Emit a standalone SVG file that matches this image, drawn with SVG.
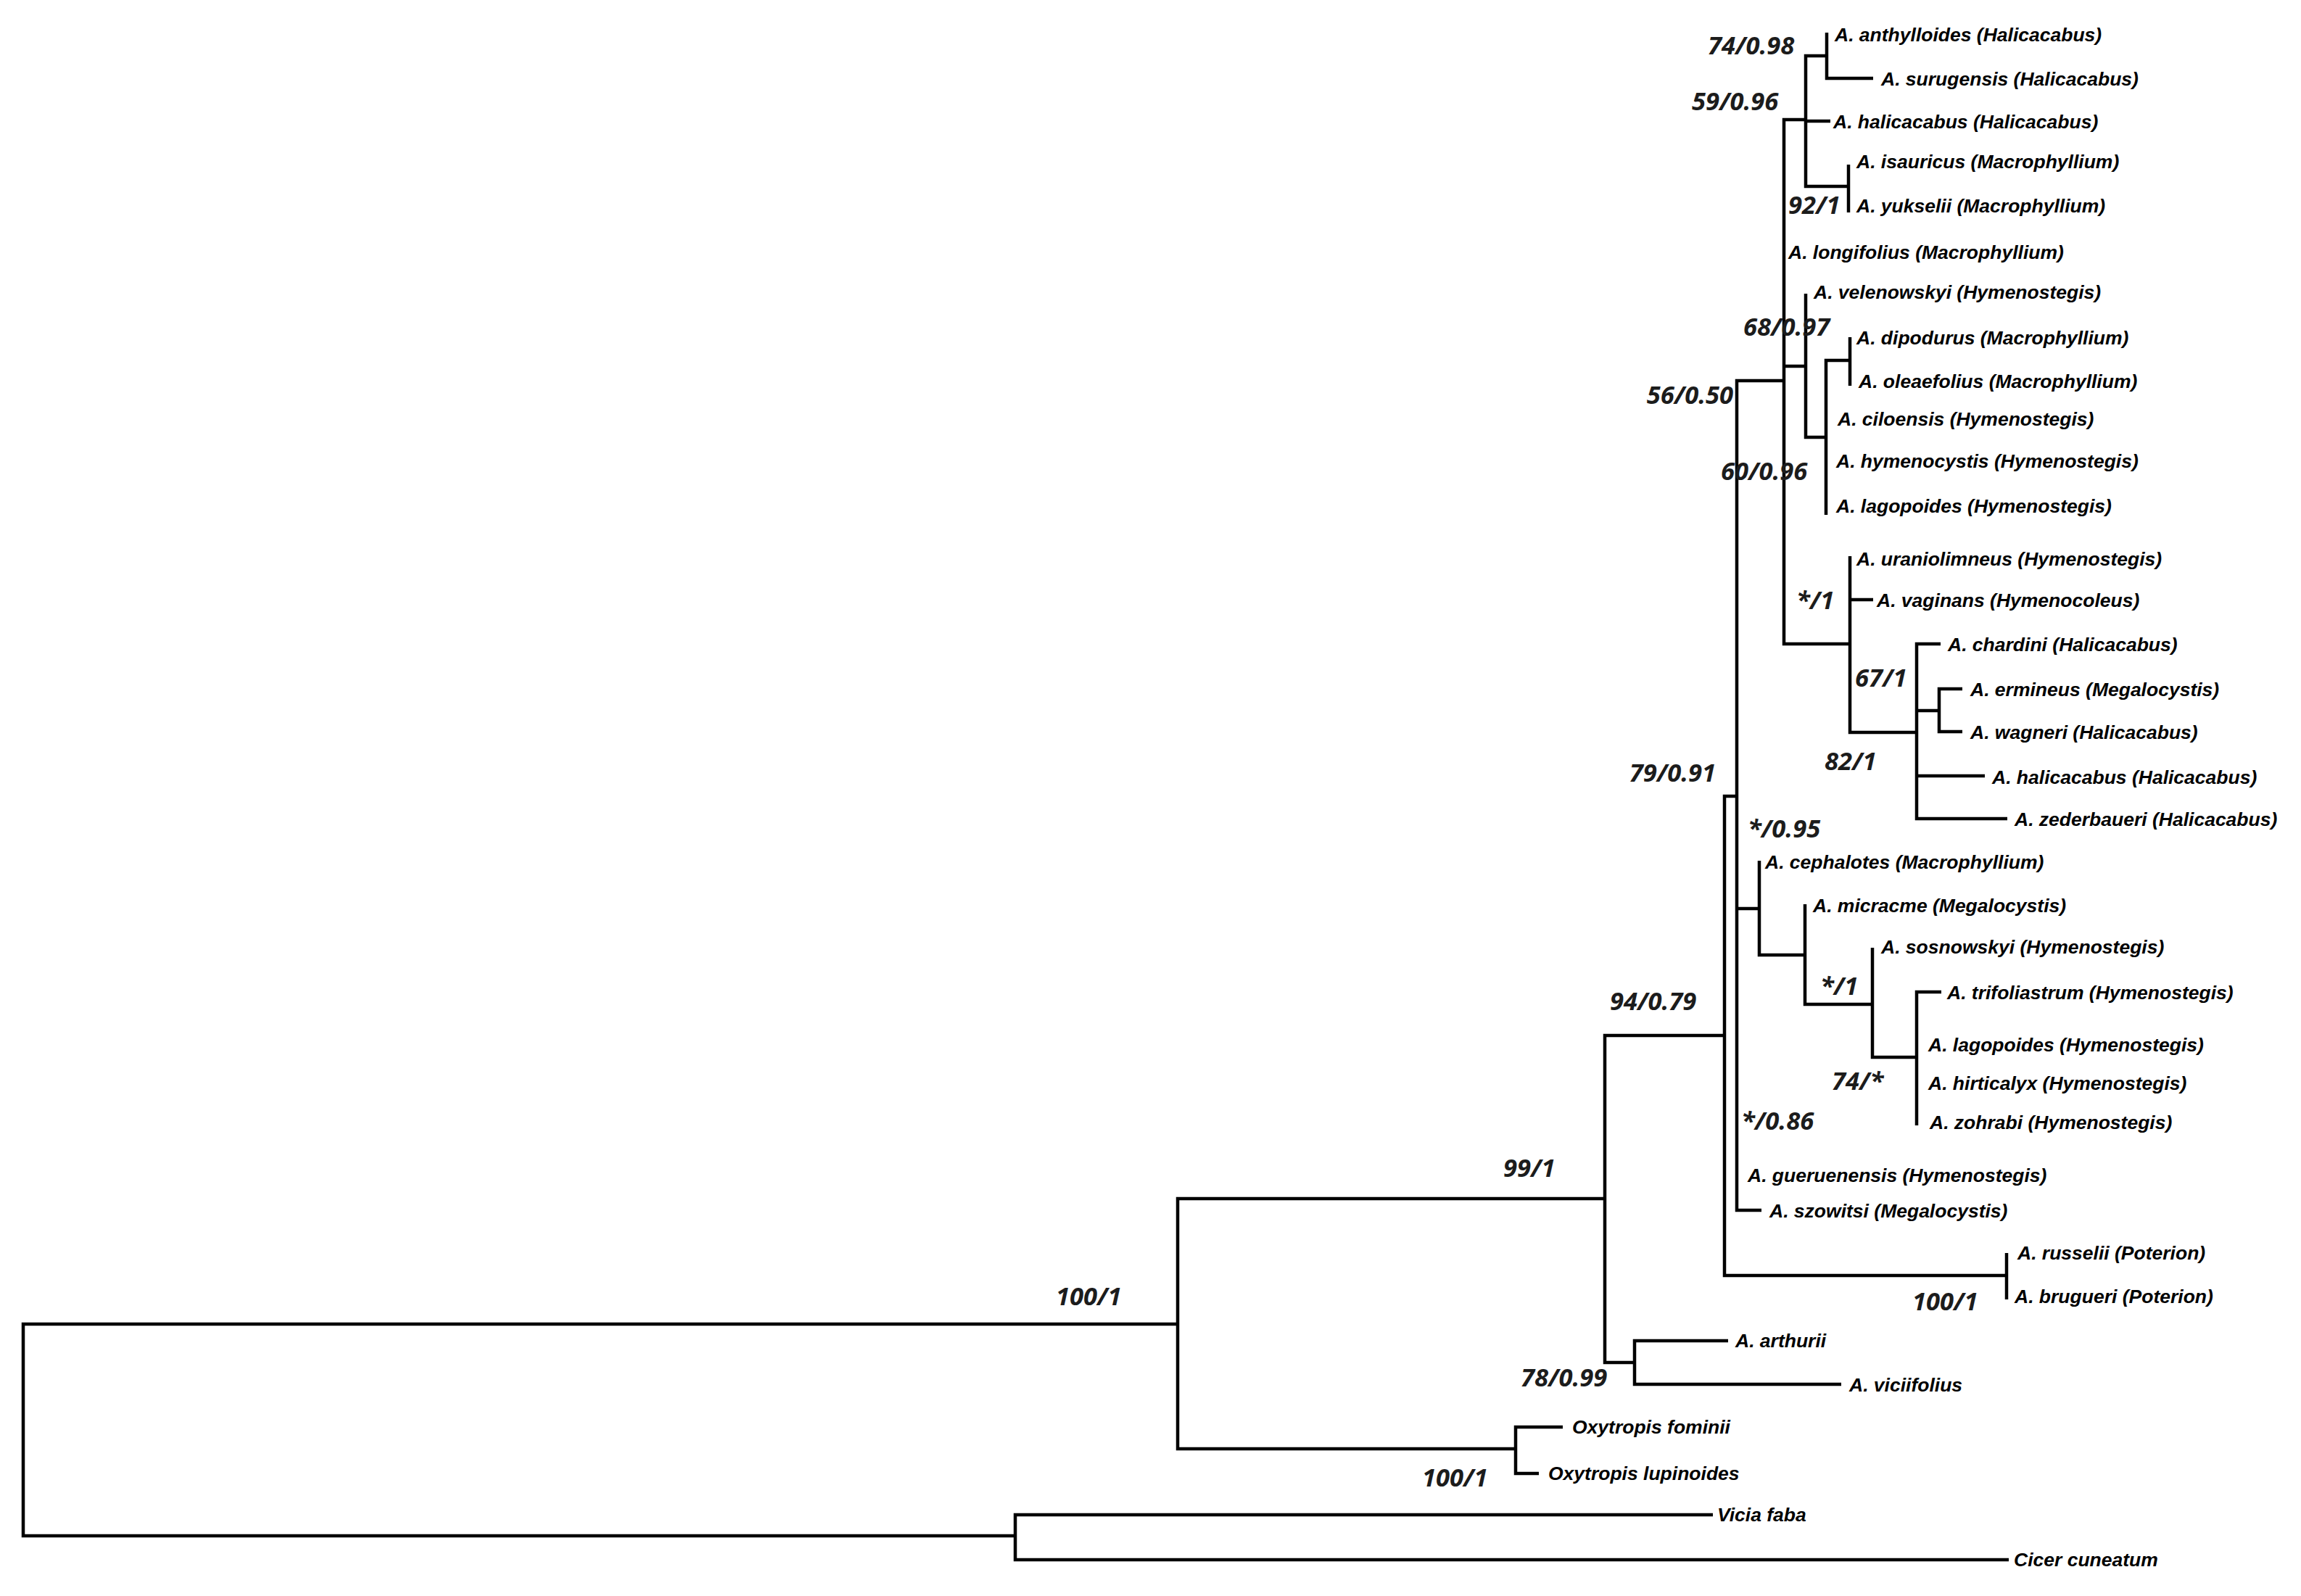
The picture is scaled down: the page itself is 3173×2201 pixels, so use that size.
<svg xmlns="http://www.w3.org/2000/svg" width="3173" height="2201" viewBox="0 0 3173 2201">
<style>
.br{stroke:#000;stroke-width:4.5;fill:none;stroke-linejoin:miter;stroke-linecap:butt}
.t{font-family:"Liberation Sans",Arial,sans-serif;font-weight:bold;font-style:italic;font-size:26.5px;fill:#000}
.s{font-family:"Open Sans","Liberation Sans",sans-serif;font-weight:bold;font-style:italic;font-size:34.5px;fill:#1c1c1c}
.e{text-anchor:end}
</style>
<rect width="3173" height="2201" fill="#fff"/>
<g id="connectors">
<path class="br" d="M1624,1826 H32 V2118 H1400"/>
<path class="br" d="M2362,2089 H1400 V2151 H2770"/>
<path class="br" d="M2213,1653 H1624 V1998 H2090"/>
<path class="br" d="M2155,1968 H2090 V2032 H2122"/>
<path class="br" d="M2378,1428 H2213 V1879 H2254"/>
<path class="br" d="M2383,1849 H2254 V1909 H2539"/>
<path class="br" d="M2395,1098 H2378 V1759 H2767"/>
<path class="br" d="M2767,1728 V1792"/>
<path class="br" d="M2460,525 H2395 V1669 H2429 M2395,1253 H2426"/>
<path class="br" d="M2426,1187 V1317 H2489"/>
<path class="br" d="M2489,1247 V1385 H2582"/>
<path class="br" d="M2582,1307 V1458 H2643"/>
<path class="br" d="M2677,1368 H2643 V1552"/>
<path class="br" d="M2490,165 H2460 V888 H2551 M2460,505 H2490"/>
<path class="br" d="M2519,77 H2490 V257 H2549 M2490,167 H2524"/>
<path class="br" d="M2519,45 V108 H2583"/>
<path class="br" d="M2549,227 V293"/>
<path class="br" d="M2490,405 V603 H2518"/>
<path class="br" d="M2551,497 H2518 V710"/>
<path class="br" d="M2551,465 V532"/>
<path class="br" d="M2551,767 V1010 H2643 M2551,827 H2583"/>
<path class="br" d="M2676,888 H2643 V1129 H2768 M2643,980 H2674 M2643,1070 H2737"/>
<path class="br" d="M2706,950 H2674 V1009 H2706"/>
</g>
<g id="support">
<g id="n74a"><text class="s" x="2355" y="75">74/0.98</text></g>
<g id="n59"><text class="s" x="2333" y="152">59/0.96</text></g>
<g id="n92"><text class="s" x="2466" y="295">92/1</text></g>
<g id="n68"><text class="s" x="2404" y="463">68/0.97</text></g>
<g id="n56"><text class="s e" x="2390" y="557">56/0.50</text></g>
<g id="n60"><text class="s" x="2373" y="662">60/0.96</text></g>
<g id="nstar1"><text class="s" x="2477" y="840">*/1</text></g>
<g id="n67"><text class="s" x="2558" y="947">67/1</text></g>
<g id="n82"><text class="s" x="2516" y="1062">82/1</text></g>
<g id="n79"><text class="s e" x="2366" y="1078">79/0.91</text></g>
<g id="nstar095"><text class="s" x="2410" y="1155">*/0.95</text></g>
<g id="nstar1b"><text class="s" x="2510" y="1372">*/1</text></g>
<g id="n94"><text class="s" x="2220" y="1393">94/0.79</text></g>
<g id="n74b"><text class="s" x="2526" y="1503">74/*</text></g>
<g id="nstar086"><text class="s" x="2401" y="1558">*/0.86</text></g>
<g id="n99"><text class="s" x="2073" y="1623">99/1</text></g>
<g id="n100pot"><text class="s" x="2637" y="1807">100/1</text></g>
<g id="n100a"><text class="s" x="1456" y="1800">100/1</text></g>
<g id="n78"><text class="s" x="2097" y="1912">78/0.99</text></g>
<g id="n100oxy"><text class="s" x="1961" y="2050">100/1</text></g>
</g>
<g id="taxa">
<g id="t01"><text class="t" x="2530" y="57">A. anthylloides (Halicacabus)</text></g>
<g id="t02"><text class="t" x="2594" y="118">A. surugensis (Halicacabus)</text></g>
<g id="t03"><text class="t" x="2528" y="177">A. halicacabus (Halicacabus)</text></g>
<g id="t04"><text class="t" x="2560" y="232">A. isauricus (Macrophyllium)</text></g>
<g id="t05"><text class="t" x="2560" y="293">A. yukselii (Macrophyllium)</text></g>
<g id="t06"><text class="t" x="2466" y="357">A. longifolius (Macrophyllium)</text></g>
<g id="t07"><text class="t" x="2501" y="412">A. velenowskyi (Hymenostegis)</text></g>
<g id="t08"><text class="t" x="2560" y="475">A. dipodurus (Macrophyllium)</text></g>
<g id="t09"><text class="t" x="2563" y="535">A. oleaefolius (Macrophyllium)</text></g>
<g id="t10"><text class="t" x="2534" y="587">A. ciloensis (Hymenostegis)</text></g>
<g id="t11"><text class="t" x="2532" y="645">A. hymenocystis (Hymenostegis)</text></g>
<g id="t12"><text class="t" x="2532" y="707">A. lagopoides (Hymenostegis)</text></g>
<g id="t13"><text class="t" x="2560" y="780">A. uraniolimneus (Hymenostegis)</text></g>
<g id="t14"><text class="t" x="2588" y="837">A. vaginans (Hymenocoleus)</text></g>
<g id="t15"><text class="t" x="2686" y="898">A. chardini (Halicacabus)</text></g>
<g id="t16"><text class="t" x="2717" y="960">A. ermineus (Megalocystis)</text></g>
<g id="t17"><text class="t" x="2717" y="1019">A. wagneri (Halicacabus)</text></g>
<g id="t18"><text class="t" x="2747" y="1081">A. halicacabus (Halicacabus)</text></g>
<g id="t19"><text class="t" x="2778" y="1139">A. zederbaueri (Halicacabus)</text></g>
<g id="t20"><text class="t" x="2434" y="1198">A. cephalotes (Macrophyllium)</text></g>
<g id="t21"><text class="t" x="2500" y="1258">A. micracme (Megalocystis)</text></g>
<g id="t22"><text class="t" x="2594" y="1315">A. sosnowskyi (Hymenostegis)</text></g>
<g id="t23"><text class="t" x="2685" y="1378">A. trifoliastrum (Hymenostegis)</text></g>
<g id="t24"><text class="t" x="2659" y="1450">A. lagopoides (Hymenostegis)</text></g>
<g id="t25"><text class="t" x="2659" y="1503">A. hirticalyx (Hymenostegis)</text></g>
<g id="t26"><text class="t" x="2661" y="1557">A. zohrabi (Hymenostegis)</text></g>
<g id="t27"><text class="t" x="2410" y="1630">A. gueruenensis (Hymenostegis)</text></g>
<g id="t28"><text class="t" x="2440" y="1679">A. szowitsi (Megalocystis)</text></g>
<g id="t29"><text class="t" x="2782" y="1737">A. russelii (Poterion)</text></g>
<g id="t30"><text class="t" x="2778" y="1797">A. brugueri (Poterion)</text></g>
<g id="t31"><text class="t" x="2393" y="1858">A. arthurii</text></g>
<g id="t32"><text class="t" x="2550" y="1919">A. viciifolius</text></g>
<g id="t33"><text class="t" x="2168" y="1977">Oxytropis fominii</text></g>
<g id="t34"><text class="t" x="2135" y="2041">Oxytropis lupinoides</text></g>
<g id="t35"><text class="t" x="2368" y="2098">Vicia faba</text></g>
<g id="t36"><text class="t" x="2777" y="2160">Cicer cuneatum</text></g>
</g>
</svg>
